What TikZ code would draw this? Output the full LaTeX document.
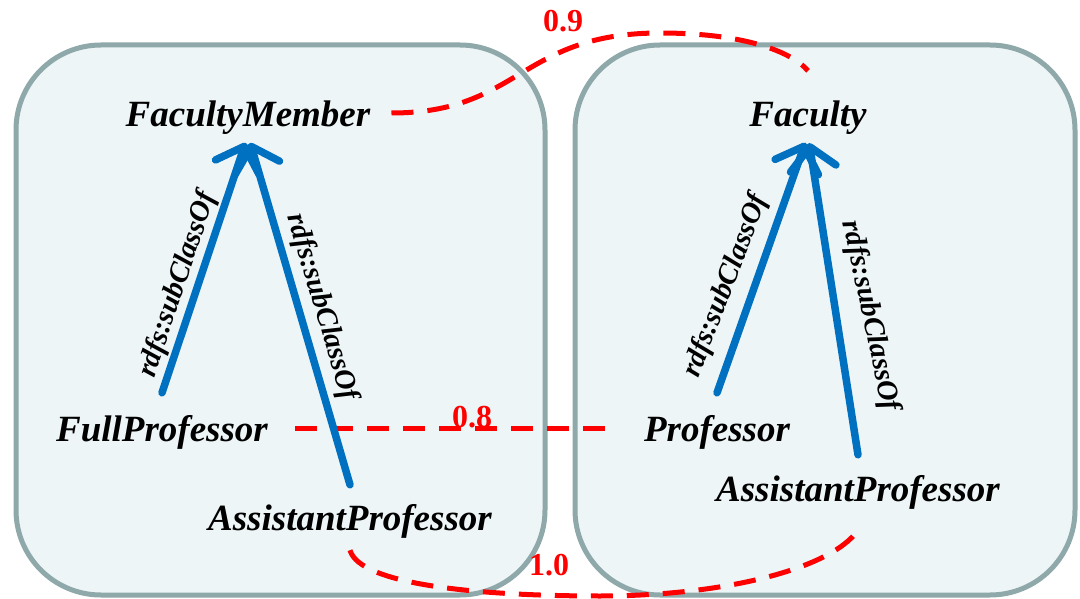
\documentclass[tikz,border=0pt]{standalone}
\usepackage{fontspec}
\setmainfont{Liberation Serif}
\usetikzlibrary{arrows.meta}
\definecolor{boxfill}{HTML}{EDF5F7}
\definecolor{boxline}{HTML}{8FA8AA}
\definecolor{subblue}{HTML}{0070C0}
\definecolor{matchred}{HTML}{FF0000}
\begin{document}
\begin{tikzpicture}[x=1pt,y=-1pt,
  panel/.style={draw=boxline,fill=boxfill,line width=5pt,rounded corners=85pt},
  cls/.style={font=\fontsize{37pt}{44pt}\selectfont\bfseries\itshape,text height=26pt,text depth=8pt,inner sep=0pt,anchor=base},
  sub/.style={draw=subblue,line width=7.5pt,line cap=round,line join=round,
    -{Straight Barb[length=22pt,width=46pt,line cap=round,line join=round]}},
  sublabel/.style={font=\fontsize{29pt}{34pt}\selectfont\bfseries\itshape,inner sep=0pt},
  match/.style={draw=matchred,line width=5pt,dash pattern=on 22pt off 14pt},
  score/.style={font=\fontsize{32pt}{38pt}\selectfont\bfseries,text=matchred,inner sep=0pt,anchor=base}]
\useasboundingbox (0,0) rectangle (1080,599);
% panels
\path[panel] (16,45) rectangle (545,595);
\path[panel] (575,45) rectangle (1075,595);
% class names
\node[cls] (fm) at (248,127) {FacultyMember};
\node[cls] (fp) at (162,441) {FullProfessor};
\node[cls] (asl) at (350,530) {AssistantProfessor};
\node[cls] (fac) at (808,127) {Faculty};
\node[cls] (prof) at (717,441) {Professor};
\node[cls] (asr) at (858,501) {AssistantProfessor};
% matches
\draw[match] ([xshift=21pt,yshift=5pt]fm.east) .. controls (520,113) and (520,33) .. (660,33) .. controls (740,33) and (790,50) .. ([yshift=30pt]fac.north);
\draw[match] ([xshift=27pt,yshift=4pt]fp.east) -- ([xshift=-33pt,yshift=4pt]prof.west);
\draw[match] ([yshift=-12pt]asl.south) .. controls (360,585) and (480,596) .. (600,596) .. controls (720,596) and (830,570) .. ([yshift=-21pt]asr.south);
\node[score] (s09) at (563,32) {0.9};
\node[score] (s08) at (472,427) {0.8};
\node[score] (s10) at (549,575) {1.0};
% subclass arrows
\draw[sub,shorten >=8pt] ([yshift=22pt]fp.north) -- (fm.south);
\draw[sub,shorten >=8pt] ([yshift=19pt]asl.north) -- (fm.south);
\draw[sub,shorten >=8pt] ([yshift=22pt]prof.north) -- (fac.south);
\draw[sub,shorten >=8pt] ([yshift=20pt]asr.north) -- (fac.south);
\node[sublabel,rotate=71.5] (l1) at (178,285) {rdfs:subClassOf};
\node[sublabel,rotate=-73.5] (l2) at (322,307) {rdfs:subClassOf};
\node[sublabel,rotate=69] (l3) at (726,286) {rdfs:subClassOf};
\node[sublabel,rotate=-78] (l4) at (870,316) {rdfs:subClassOf};
\end{tikzpicture}
\end{document}
